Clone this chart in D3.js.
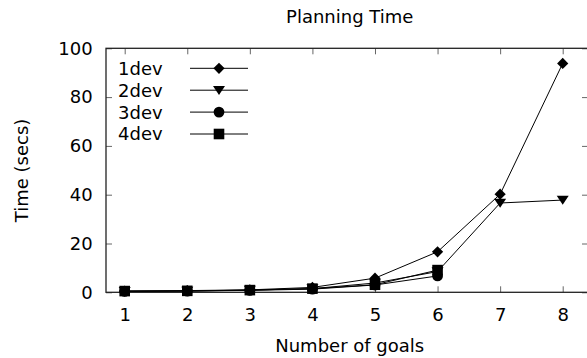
<!DOCTYPE html>
<html>
<head>
<meta charset="utf-8">
<script src="https://cdn.jsdelivr.net/npm/d3@7"></script>
<style>
  html, body { margin: 0; padding: 0; background: #fff; }
  svg { display: block; font-family: "DejaVu Sans", sans-serif; }
  text { font-family: "DejaVu Sans", sans-serif; font-size: 18px; fill: #000; }
</style>
</head>
<body>
<svg id="chart" width="587" height="358"></svg>
<script>
// Number of goals on the x axis
const goals = [1, 2, 3, 4, 5, 6, 7, 8];
// Planning time (seconds) per device count
const dev1 = [0.5, 0.7, 1.0, 2.0, 5.8, 16.6, 40.2, 93.8];
const dev2 = [0.4, 0.5, 0.9, 1.5, 3.8, 8.5, 36.6, 37.8];
const dev3 = [0.4, 0.5, 0.8, 1.3, 3.0, 6.7];
const dev4 = [0.5, 0.6, 0.9, 1.5, 3.1, 9.1];
const seriesNames = ["1dev", "2dev", "3dev", "4dev"];
const yTicks = [0, 20, 40, 60, 80, 100];

const series = [dev1, dev2, dev3, dev4].map((vals, i) => ({
  name: seriesNames[i],
  points: vals.map((v, j) => ({ x: goals[j], y: v }))
}));

const svg = d3.select("#chart");
const frame = { left: 106, right: 588, top: 48.3, bottom: 292.3 };

const x = d3.scaleLinear().domain([1, 8]).range([124.7, 562.7]);
const y = d3.scaleLinear().domain([0, 100]).range([frame.bottom, frame.top]);

// Custom marker shapes (sizes are half-widths in px)
const diamond = { draw(ctx, r) { ctx.moveTo(0, -r); ctx.lineTo(r, 0); ctx.lineTo(0, r); ctx.lineTo(-r, 0); ctx.closePath(); } };
const triDown = { draw(ctx, r) { ctx.moveTo(-r, -r * 0.72); ctx.lineTo(r, -r * 0.72); ctx.lineTo(0, r * 0.78); ctx.closePath(); } };
const circle = { draw(ctx, r) { ctx.moveTo(r, 0); ctx.arc(0, 0, r, 0, 2 * Math.PI); } };
const square = { draw(ctx, r) { ctx.rect(-r, -r, 2 * r, 2 * r); } };
const symbols = [
  d3.symbol().type(diamond).size(5.6),
  d3.symbol().type(triDown).size(6),
  d3.symbol().type(circle).size(5.4),
  d3.symbol().type(square).size(5.3)
];

// Ticks point inward and are mirrored on the opposite side
const tickLen = 6;
const g = svg.append("g");
const axisBottom = d3.axisBottom(x).tickValues(goals).tickFormat(d3.format("d"))
  .tickSizeInner(-tickLen).tickSizeOuter(0).tickPadding(16);
const axisTop = d3.axisTop(x).tickValues(goals).tickSizeInner(-tickLen).tickSizeOuter(0).tickFormat("");
const axisLeft = d3.axisLeft(y).tickValues(yTicks).tickFormat(d3.format("d"))
  .tickSizeInner(-tickLen).tickSizeOuter(0).tickPadding(13.3);
const axisRight = d3.axisRight(y).tickValues(yTicks).tickSizeInner(-tickLen).tickSizeOuter(0).tickFormat("");

function style(sel) {
  sel.attr("font-family", null).attr("font-size", null);
  sel.select(".domain").remove();
  sel.selectAll(".tick line").attr("stroke", "#666").attr("stroke-width", 1);
  sel.selectAll(".tick text").attr("fill", "#000");
}
g.append("g").attr("transform", `translate(0,${frame.bottom})`).call(axisBottom).call(style);
g.append("g").attr("transform", `translate(0,${frame.top})`).call(axisTop).call(style);
g.append("g").attr("transform", `translate(${frame.left},0)`).call(axisLeft).call(style);
g.append("g").attr("transform", `translate(${frame.right},0)`).call(axisRight).call(style);

// Plot border
svg.append("rect")
  .attr("x", frame.left).attr("y", frame.top)
  .attr("width", frame.right - frame.left).attr("height", frame.bottom - frame.top)
  .attr("fill", "none").attr("stroke", "#222").attr("stroke-width", 1.3);

// Series lines and markers
const line = d3.line().x(d => x(d.x)).y(d => y(d.y));
series.forEach((s, i) => {
  svg.append("path").datum(s.points)
    .attr("d", line).attr("fill", "none").attr("stroke", "#000").attr("stroke-width", 1);
  svg.append("g").selectAll("path").data(s.points).join("path")
    .attr("d", symbols[i])
    .attr("transform", d => `translate(${x(d.x)},${y(d.y)})`)
    .attr("fill", "#000");
});

// Legend
const legend = svg.append("g");
const legTop = 68.3, legStep = 21.9;
series.forEach((s, i) => {
  const ly = legTop + i * legStep;
  legend.append("text").attr("x", 118).attr("y", ly).attr("dy", "0.36em").text(s.name);
  legend.append("line").attr("x1", 190).attr("x2", 248).attr("y1", ly).attr("y2", ly)
    .attr("stroke", "#000").attr("stroke-width", 1);
  legend.append("path").attr("d", symbols[i])
    .attr("transform", `translate(219,${ly})`).attr("fill", "#000");
});

// Titles
svg.append("text").attr("x", 349.7).attr("y", 23).attr("text-anchor", "middle").text("Planning Time");
svg.append("text").attr("x", 349.7).attr("y", 351.5).attr("text-anchor", "middle").text("Number of goals");
svg.append("text").attr("transform", "translate(28,170.5) rotate(-90)").attr("text-anchor", "middle")
  .text("Time (secs)");
</script>
</body>
</html>
